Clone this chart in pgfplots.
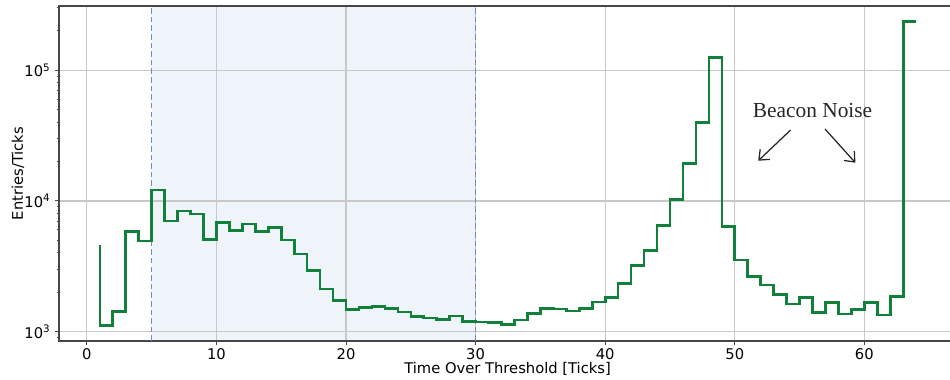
\documentclass[border=0pt]{standalone}
\usepackage{fontspec}
\setmainfont{DejaVu Sans}
\newfontfamily\annfont{Liberation Serif}
\usepackage{pgfplots}
\pgfplotsset{compat=1.18}
\usetikzlibrary{arrows.meta}
\definecolor{histc}{RGB}{17,128,58}
\definecolor{spanc}{RGB}{239,243,250}
\definecolor{vlineblue}{RGB}{108,142,195}
\definecolor{gridc}{RGB}{200,200,200}
\definecolor{spine}{RGB}{70,70,70}
\begin{document}
\begin{tikzpicture}
\begin{axis}[
  set layers,
  scale only axis,
  width=646.56pt, height=241.2pt,
  at={(42.48pt,27.36pt)}, anchor=south west,
  xmin=-2.15, xmax=67.15,
  ymode=log, ymin=849, ymax=309700,
  xtick={0,10,20,30,40,50,60},
  ytick={1000,10000,100000},
  yticklabels={10\textsuperscript{3},10\textsuperscript{4},10\textsuperscript{5}},
  minor ytick={900,2000,3000,4000,5000,6000,7000,8000,9000,20000,30000,40000,50000,60000,70000,80000,90000,200000,300000},
  grid=major,
  major grid style={gridc, line width=0.8pt},
  tick align=outside, tick pos=left,
  major tick length=2.6pt, minor tick length=1.6pt,
  axis line style={spine, line width=1pt},
  every tick/.style={spine, line width=0.7pt},
  xlabel={Time Over Threshold [Ticks]},
  ylabel={Entries/Ticks},
  label style={font=\fontsize{10.6}{12}\selectfont},
  xlabel style={at={(axis description cs:0.4995,-0.0835)}, anchor=center},
  ylabel style={at={(axis description cs:-0.0456,0.5)}, anchor=center},
  ticklabel style={font=\fontsize{10.6}{12}\selectfont},
  xticklabel style={yshift=0.5pt},
  /pgf/number format/assume math mode=true,
  clip=true,
]
\begin{pgfonlayer}{axis background}
\fill[spanc] (axis cs:5,849) rectangle (axis cs:30,309700);
\end{pgfonlayer}
\addplot[color=vlineblue, line width=1.1pt, dash pattern=on 4pt off 2.2pt, mark=none, forget plot] coordinates {(5,849)(5,309700)};
\addplot[color=vlineblue, line width=1.1pt, dash pattern=on 4pt off 2.2pt, mark=none, forget plot] coordinates {(30,849)(30,309700)};
\addplot[color=histc, line width=1.9pt, const plot mark right, mark=none] coordinates {
(1,4600)(2,1110)(3,1422)(4,5820)(5,4930)(6,12100)(7,7010)(8,8370)(9,7940)(10,5080)
(11,6810)(12,5910)(13,6650)(14,5820)(15,6240)(16,5030)(17,3930)(18,2945)(19,2120)(20,1725)
(21,1482)(22,1525)(23,1552)(24,1499)(25,1415)(26,1303)(27,1273)(28,1245)(29,1318)(30,1201)
(31,1188)(32,1172)(33,1132)(34,1229)(35,1381)(36,1505)(37,1495)(38,1439)(39,1510)(40,1687)
(41,1833)(42,2344)(43,3220)(44,4190)(45,6460)(46,10280)(47,19380)(48,39600)(49,125400)(50,6350)
(51,3530)(52,2632)(53,2274)(54,1930)(55,1629)(56,1833)(57,1406)(58,1678)(59,1366)(60,1483)
(61,1678)(62,1342)(63,1853)(64,237000)
};
\node[font=\annfont\fontsize{15.4}{18}\selectfont, text=black!85] at (axis cs:56,49500) {Beacon Noise};
\draw[-{Straight Barb[length=6pt,width=10pt]}, line width=0.9pt, black!85] (axis cs:54.30,34800) -- (axis cs:51.81,20300);
\draw[-{Straight Barb[length=6pt,width=10pt]}, line width=0.9pt, black!85] (axis cs:56.96,35500) -- (axis cs:59.31,19600);
\end{axis}
\pgfresetboundingbox
\useasboundingbox (0,0) rectangle (684pt,272.88pt);
\end{tikzpicture}
\end{document}
